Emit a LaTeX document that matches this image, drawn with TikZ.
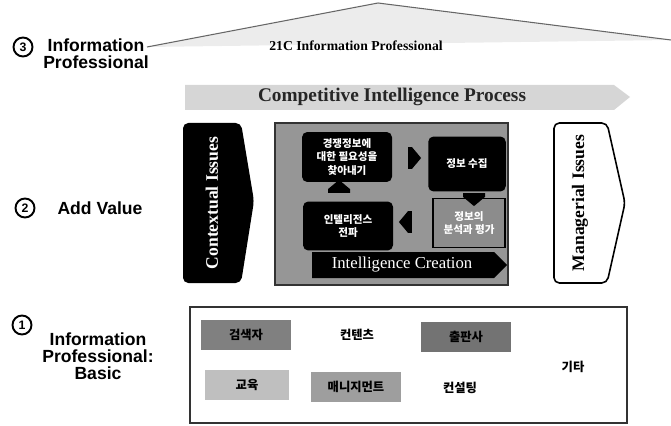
\documentclass[tikz,border=0pt]{standalone}
\usepackage{fontspec}
\setmainfont{Liberation Serif}
\setsansfont{Liberation Sans}
\newfontfamily\kofont{Noto Sans CJK KR}
\usetikzlibrary{shapes.arrows,positioning}
\definecolor{roofgray}{RGB}{236,236,236}
\definecolor{bannergray}{RGB}{214,214,214}
\definecolor{dotgray}{RGB}{150,150,150}
\tikzset{
  lvlnum/.style={circle,draw=black,line width=1.1pt,inner sep=0pt,minimum size=3.8mm,font=\sffamily\bfseries\scriptsize},
  lvltext/.style={font=\sffamily\bfseries\fontsize{10}{9.6}\selectfont,align=center,inner sep=0pt},
  serifhead/.style={font=\rmfamily\bfseries\fontsize{11}{12}\selectfont,inner sep=0pt},
  sidetext/.style={font=\rmfamily\bfseries\fontsize{10}{12}\selectfont,rotate=90,inner sep=0pt},
  ko/.style={font=\kofont\bfseries\fontsize{6}{7.6}\selectfont,align=center,inner sep=0pt},
  kob/.style={font=\kofont\bfseries\fontsize{7}{8}\selectfont,inner sep=0pt},
}
\begin{document}
\begin{tikzpicture}[x=0.02cm,y=-0.02cm,
  cibox/.style={rectangle,rounded corners=3pt,fill=black,text=white,ko},
  cyc/.style={single arrow,fill=black,single arrow head extend=0pt,single arrow tip angle=100,
    minimum width=4.4mm,minimum height=2.6mm,inner sep=0pt},
  basebox/.style={rectangle,minimum width=1.8cm,minimum height=0.6cm,kob}]
  \useasboundingbox (0,0) rectangle (671,425);
  % ---- level 3: the roof ----
  \fill[roofgray] (147,47) -- (378,3) -- (671,40) -- cycle;
  \coordinate (eaveL) at (147,47);
  \coordinate (apex) at (378,3);
  \coordinate (eaveR) at (671,40);
  \draw[black!60,line width=0.6pt] (eaveL) -- (apex) -- (eaveR);
  \node[font=\rmfamily\bfseries\fontsize{7.8}{9}\selectfont,inner sep=0pt] (roof) at (356,46) {21C Information Professional};
  % ---- the process banner ----
  \fill[bannergray] (185,85) -- (614,85) -- (630,97) -- (614,110) -- (185,110) -- cycle;
  \node[serifhead,text=black!85] (cip) at (392,97) {Competitive Intelligence Process};
  % ---- level 2: contextual, creation, managerial ----
  \fill[black,rounded corners=3pt] (183,123) -- (241,123) -- (254,201) -- (241,283) -- (183,283) -- cycle;
  \node[sidetext,text=white] (ctx) at (212,203) {Contextual Issues};
  \draw[black!80,line width=0.8pt,fill=dotgray] (275,123) rectangle (508,285);
  \node[cibox,minimum width=1.8cm,minimum height=1.0cm] (need) at (347,157) {경쟁정보에\\대한 필요성을\\찾아내기};
  \node[cibox,minimum width=1.55cm,minimum height=1.1cm] (collect) at (467,164) {정보 수집};
  \node[rectangle,fill=black!45,draw=black,line width=0.8pt,text=white,ko,minimum width=1.44cm,minimum height=0.98cm] (analyse) at (469,223) {정보의\\분석과 평가};
  \node[cibox,minimum width=1.8cm,minimum height=0.98cm] (deliver) at (348,226) {인텔리전스\\전파};
  \node[cyc] (c1) at (410,158) {};
  \node[cyc,shape border rotate=270] (c2) at (474,195) {};
  \node[cyc,shape border rotate=180] (c3) at (410,222) {};
  \node[cyc,shape border rotate=90] (c4) at (339,191) {};
  \fill[black] (312,252) -- (494,252) -- (507,265) -- (494,278) -- (312,278) -- cycle;
  \node[font=\rmfamily\fontsize{9.5}{11}\selectfont,text=white,inner sep=0pt] (creation) at (402,265) {Intelligence Creation};
  \draw[black,line width=0.9pt,fill=white,rounded corners=3pt] (554,123) -- (607,123) -- (625,203) -- (607,283) -- (554,283) -- cycle;
  \node[sidetext] (mgr) at (580,203) {Managerial Issues};
  % ---- level 1: the basic roles ----
  \draw[black!80,line width=0.8pt] (190,307) rectangle (627,423);
  \node[basebox,fill=black!50] (search) at (246,335) {검색자};
  \node[kob] (content) at (357,335) {컨텐츠};
  \node[basebox,fill=black!55] (publish) at (466,337) {출판사};
  \node[kob] (etc) at (573,367) {기타};
  \node[basebox,fill=black!25,minimum width=1.7cm] (edu) at (247,385) {교육};
  \node[basebox,fill=black!38] (mgmt) at (356,387) {매니지먼트};
  \node[kob] (consult) at (460,388) {컨설팅};
  % ---- the three levels, left ----
  \node[lvlnum] (n3) at (23,47) {3};
  \node[lvltext] (l3) at (96,54) {Information\\Professional};
  \node[lvlnum] (n2) at (25,208) {2};
  \node[lvltext] (l2) at (100,208) {Add Value};
  \node[lvlnum] (n1) at (22,325) {1};
  \node[lvltext] (l1) at (98,356) {Information\\Professional:\\Basic};
\end{tikzpicture}
\end{document}
